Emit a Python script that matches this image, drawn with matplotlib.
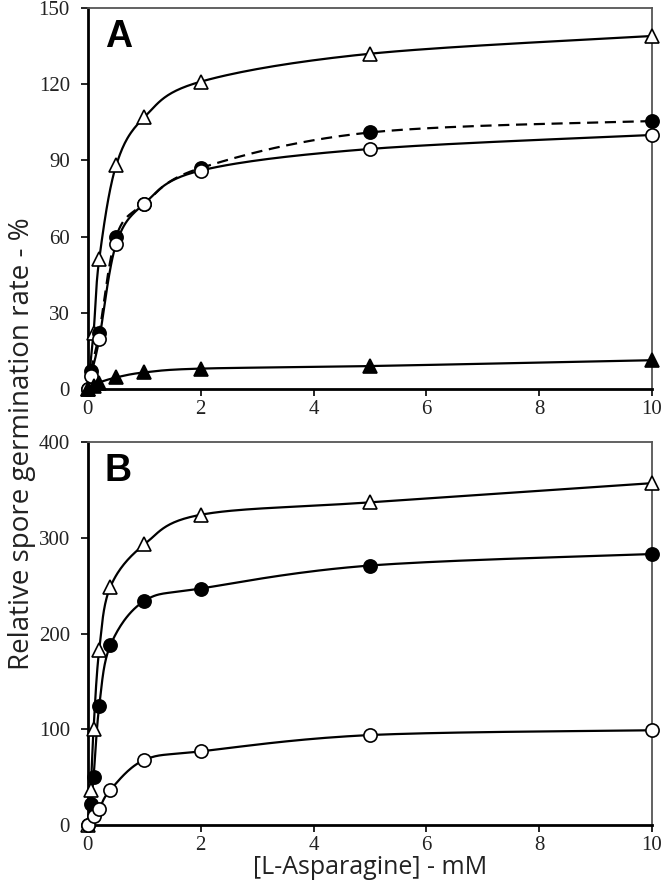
import numpy as np
import matplotlib.pyplot as plt

# panel A data
xa_tri_open = [0, 0.1, 0.2, 0.5, 1, 2, 5, 10]
ya_tri_open = [0, 22, 51, 88, 107, 121, 132, 139]
xa_circ_fill = [0, 0.05, 0.2, 0.5, 1, 2, 5, 10]
ya_circ_fill = [0, 7, 22, 60, 73, 87, 101, 105.5]
xa_circ_open = [0, 0.05, 0.2, 0.5, 1, 2, 5, 10]
ya_circ_open = [0, 5, 19.5, 57, 73, 86, 94.5, 100]
xa_tri_fill = [0, 0.1, 0.2, 0.5, 1, 2, 5, 10]
ya_tri_fill = [0, 1, 2.5, 4.5, 6.5, 8, 9, 11.3]

# panel B data
xb_tri_open = [0, 0.05, 0.1, 0.2, 0.4, 1, 2, 5, 10]
yb_tri_open = [0, 37, 100, 183, 249, 293, 324, 337, 357]
xb_circ_fill = [0, 0.05, 0.1, 0.2, 0.4, 1, 2, 5, 10]
yb_circ_fill = [0, 22, 50, 124, 188, 234, 247, 271, 283]
xb_circ_open = [0, 0.1, 0.2, 0.4, 1, 2, 5, 10]
yb_circ_open = [0, 9, 17, 37, 68, 77, 94, 99]

x_ticks = [0, 2, 4, 6, 8, 10]
ya_ticks = [0, 30, 60, 90, 120, 150]
yb_ticks = [0, 100, 200, 300, 400]


def smooth(x, y, n=30):
    # catmull-rom path through the points, like the smoothed lines of a spreadsheet
    x = np.asarray(x, float)
    y = np.asarray(y, float)
    px = np.concatenate([[x[0]], x, [x[-1]]])
    py = np.concatenate([[y[0]], y, [y[-1]]])
    outx, outy = [], []
    t = np.linspace(0, 1, n)
    for i in range(1, len(px) - 2):
        for p, out in ((px, outx), (py, outy)):
            p0, p1, p2, p3 = p[i - 1], p[i], p[i + 1], p[i + 2]
            c1 = p1 + (p2 - p0) / 6
            c2 = p2 - (p3 - p1) / 6
            out.extend((1 - t) ** 3 * p1 + 3 * (1 - t) ** 2 * t * c1
                       + 3 * (1 - t) * t ** 2 * c2 + t ** 3 * p2)
    return outx, outy


def series(ax, x, y, marker, face, ls='-'):
    sx, sy = smooth(x, y)
    ax.plot(sx, sy, color='black', lw=1.6, ls=ls, zorder=2,
            dashes=(5, 3) if ls == '--' else (None, None))
    ax.plot(x, y, ls='none', marker=marker, ms=9.5 if marker == 'o' else 10.5,
            mfc=face, mec='black', mew=1.2, zorder=3, clip_on=False)


def style(ax, yticks, letter):
    ax.set_xlim(0, 10)
    ax.set_ylim(yticks[0], yticks[-1])
    ax.set_xticks(x_ticks)
    ax.set_yticks(yticks)
    for s in ['left', 'bottom']:
        ax.spines[s].set_linewidth(2.0)
        ax.spines[s].set_color('black')
    for s in ['top', 'right']:
        ax.spines[s].set_linewidth(1.3)
        ax.spines[s].set_color('#555555')
    ax.tick_params(direction='out', length=5, width=1.2, labelsize=15)
    ax.tick_params(axis='x', pad=3)
    ax.tick_params(axis='y', pad=8)
    for lab in ax.get_xticklabels() + ax.get_yticklabels():
        lab.set_fontfamily('Liberation Serif')
        lab.set_color('#222222')
    ax.text(0.03, 0.97, letter, transform=ax.transAxes, ha='left', va='top',
            fontsize=27, fontweight='bold', fontfamily='Liberation Sans')


fig = plt.figure(figsize=(6.66, 8.92), dpi=100)
ax_a = fig.add_axes([0.132, 0.564, 0.847, 0.427])
ax_b = fig.add_axes([0.132, 0.075, 0.847, 0.4295])

series(ax_a, xa_tri_open, ya_tri_open, '^', 'white')
series(ax_a, xa_circ_fill, ya_circ_fill, 'o', 'black', ls='--')
series(ax_a, xa_circ_open, ya_circ_open, 'o', 'white')
series(ax_a, xa_tri_fill, ya_tri_fill, '^', 'black')
style(ax_a, ya_ticks, 'A')

series(ax_b, xb_tri_open, yb_tri_open, '^', 'white')
series(ax_b, xb_circ_fill, yb_circ_fill, 'o', 'black')
series(ax_b, xb_circ_open, yb_circ_open, 'o', 'white')
style(ax_b, yb_ticks, 'B')

fig.text(0.556, 0.027, '[L-Asparagine] - mM', ha='center', va='center',
         fontsize=18, fontfamily='Open Sans', color='#222222')
fig.text(0.033, 0.503, 'Relative spore germination rate - %', rotation=90,
         ha='center', va='center', fontsize=20, fontfamily='Open Sans',
         color='#222222')

fig.savefig('out.png', dpi=100)
